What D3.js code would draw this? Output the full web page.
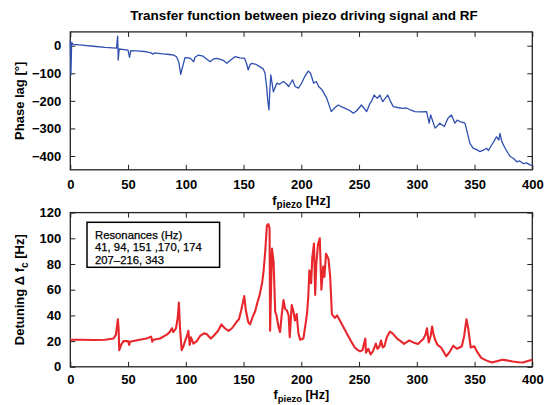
<!DOCTYPE html>
<html>
<head>
<meta charset="utf-8">
<script src="https://cdn.jsdelivr.net/npm/d3@7"></script>
<style>
  html, body { margin: 0; padding: 0; background: #fff; }
  svg { display: block; font-family: "Liberation Sans", Arial, Helvetica, sans-serif; }
  .axis text { font-size: 13px; font-weight: bold; fill: #000; }
  .axis path { display: none; }
  .axis line { stroke: #222; stroke-width: 1; }
</style>
</head>
<body>
<svg id="chart" width="553" height="405"></svg>
<script>
// Phase lag of the RF signal versus piezo drive frequency
const phaseFreq = [0, 0.5, 1.2, 2.5, 10, 20, 30, 40, 41, 41.5, 42.3, 45, 50, 51.3, 52.3, 60, 66, 70, 71.6, 73, 80, 86, 89.5, 92, 94, 95.6, 97, 99.3, 102, 104, 106.8, 108, 111, 115, 121, 124, 127, 132, 135.6, 138, 142.6, 147, 151, 153, 154, 155.5, 157, 161, 164, 167, 168.6, 170, 171, 172, 172.8, 173.6, 174.5, 175.8, 178.8, 181, 184.6, 187, 189, 192.5, 194.6, 197.5, 200, 203, 206, 208, 210.7, 213, 215, 218, 222, 226, 229, 232, 235, 238, 242, 245, 248, 252, 254, 256.6, 259.5, 261, 263, 265.8, 268, 270.5, 274.8, 277, 279.6, 284, 288.3, 291, 295, 298.4, 303, 308.5, 309.5, 310.7, 312, 313.5, 315.8, 318, 320, 323.8, 327, 330, 333, 335, 337.4, 341.7, 344, 346, 348.9, 351, 354.7, 358, 360.5, 362, 364.8, 367, 369, 371, 372, 373.6, 376.5, 379, 381, 384, 386.6, 389, 392.6, 395, 398, 400];
const phaseDeg = [20, -106, 12, 5, 2, -2, -6, -9, 35, -52, -12, -13, -16, -42, -18, -20, -22, -26, -31, -26, -30, -32, -34, -40, -60, -104, -80, -43, -44, -46, -58, -42, -34, -38, -58, -48, -46, -52, -64, -55, -40, -44, -46, -70, -88, -70, -64, -68, -76, -84, -100, -150, -200, -233, -160, -106, -130, -167, -136, -140, -130, -138, -148, -124, -148, -154, -138, -112, -92, -100, -136, -130, -148, -160, -190, -239, -225, -215, -222, -227, -235, -245, -236, -215, -225, -239, -209, -200, -179, -191, -179, -203, -179, -200, -221, -225, -227, -226, -234, -239, -240, -239, -260, -281, -251, -270, -299, -290, -281, -293, -263, -251, -281, -270, -275, -281, -320, -354, -372, -375, -384, -378, -372, -380, -360, -345, -330, -342, -318, -348, -372, -390, -402, -410, -421, -418, -428, -425, -432, -434];

// Detuning of the cavity frequency versus piezo drive frequency
const detFreq = [0, 10, 20, 30, 37.5, 39.5, 41.2, 41.8, 42.4, 44, 46, 50, 51, 51.6, 60, 66, 70, 71, 72, 77.7, 83.5, 86, 88, 89.2, 91.5, 93, 94, 95, 96.4, 98, 99.3, 101, 102.2, 103.4, 104.5, 106.5, 109.5, 112.4, 115.8, 118, 121.6, 124, 128, 130.8, 133.8, 137, 140, 144, 146, 148, 150.6, 152, 154, 155.6, 158, 160, 162, 164, 166, 167.3, 168.8, 170.2, 171.5, 172.5, 173, 173.8, 174.6, 176, 177.4, 178.5, 180.3, 181.6, 183, 184.6, 186, 187.5, 189, 190, 191.7, 193, 194.5, 196, 197.5, 199, 201.8, 203.8, 205, 206, 207, 208.5, 209.5, 211, 212, 213, 214.4, 216, 217.4, 219, 220, 221.4, 223.5, 225, 226.5, 229, 231, 234, 237, 240, 243, 246.3, 249, 250.9, 253, 255.4, 256, 258, 260, 262, 264.6, 266, 267.7, 269, 270.5, 272, 274, 276.8, 279, 282.9, 286, 289, 293.5, 297, 301, 305.8, 307.5, 308.8, 310.3, 312, 313.3, 314.5, 316.3, 318, 321, 323, 325.5, 328, 331.6, 334.7, 337, 339, 341, 343, 344.5, 346.7, 349.8, 352, 355.8, 360, 365, 370, 374, 378, 383, 388, 392, 396, 400];
const detHz = [21, 21, 20.8, 21, 22, 25, 37, 30, 13, 17, 20, 20, 17, 19.5, 21, 22, 23.5, 19.5, 21, 22, 25, 27, 30, 27, 30, 38, 50, 30, 13, 16, 20, 24, 28, 17, 23, 18, 20, 24, 26, 25.5, 22, 24, 28, 33, 30, 28, 30, 35, 37, 44, 55, 44, 35, 33, 39, 43, 50, 56, 65, 74, 90, 110, 111, 108, 28, 60, 92, 82, 43, 40, 31, 27, 40, 52, 45, 44, 40, 23, 48, 44, 36, 41, 26, 21, 22, 34, 42, 54, 75, 65, 85, 96, 56, 80, 95, 100, 60, 78, 70, 88, 84, 70, 41, 38, 40, 35, 30, 25, 20, 15, 13, 12, 13, 22, 11, 14, 9.6, 12, 18, 14, 16, 20.5, 15, 16, 23, 27.4, 26, 22, 20, 17.8, 20.5, 19, 17.8, 21.9, 25, 30, 19, 24, 31.4, 25, 20, 17, 15, 12, 8.2, 11, 16.4, 14, 15, 16, 24, 37, 30, 15, 16, 12, 7, 5, 3.3, 4.5, 5.5, 5, 4.1, 3.5, 3.3, 4.5, 5.5];

const freqTicks = [0, 50, 100, 150, 200, 250, 300, 350, 400];
const phaseTicks = [0, -100, -200, -300, -400];
const detTicks = [0, 20, 40, 60, 80, 100, 120];
const resonanceLines = ["Resonances (Hz)", "41, 94, 151 ,170, 174", "207\u2013216, 343"];

const svg = d3.select("#chart");
const left = 70.3, right = 532.3;

const x = d3.scaleLinear().domain([0, 400]).range([left, right]);

function panel(opt) {
  const { top, bottom, yDomain, yTicks, xs, ys, color, width, yLabelParts, yLabelX, xPad, xLabelGap, xLabelSize } = opt;
  const y = d3.scaleLinear().domain(yDomain).range([bottom, top]);
  const g = svg.append("g");

  // inward ticks on all four sides
  g.append("g").attr("class", "axis").attr("transform", `translate(0,${bottom})`)
    .call(d3.axisBottom(x).tickValues(freqTicks).tickSize(-5).tickPadding(xPad).tickFormat(d3.format("d")));
  g.append("g").attr("class", "axis").attr("transform", `translate(0,${top})`)
    .call(d3.axisTop(x).tickValues(freqTicks).tickSize(-5).tickFormat(""));
  g.append("g").attr("class", "axis").attr("transform", `translate(${left},0)`)
    .call(d3.axisLeft(y).tickValues(yTicks).tickSize(-5).tickPadding(9).tickFormat(d3.format("d")));
  g.append("g").attr("class", "axis").attr("transform", `translate(${right},0)`)
    .call(d3.axisRight(y).tickValues(yTicks).tickSize(-5).tickFormat(""));

  g.append("rect")
    .attr("x", left).attr("y", top)
    .attr("width", right - left).attr("height", bottom - top)
    .attr("fill", "none").attr("stroke", "#222").attr("stroke-width", 1.3);

  const line = d3.line().x((d, i) => x(xs[i])).y((d, i) => y(ys[i]));
  g.append("path")
    .datum(ys)
    .attr("d", line)
    .attr("fill", "none")
    .attr("stroke", color)
    .attr("stroke-width", width)
    .attr("stroke-linejoin", "round");

  // x axis label: f_piezo [Hz]
  const xl = g.append("text")
    .attr("x", (left + right) / 2).attr("y", bottom + xLabelGap)
    .attr("text-anchor", "middle")
    .attr("font-size", xLabelSize).attr("font-weight", "bold");
  xl.append("tspan").text("f");
  xl.append("tspan").attr("font-size", xLabelSize - 3).attr("dy", 3.5).text("piezo");
  xl.append("tspan").attr("dy", -3.5).text(" [Hz]");

  // y axis label
  const yl = g.append("text")
    .attr("transform", `translate(${yLabelX},${(top + bottom) / 2}) rotate(-90)`)
    .attr("text-anchor", "middle")
    .attr("font-size", 13).attr("font-weight", "bold");
  yLabelParts.forEach(p => {
    const t = yl.append("tspan").text(p.text);
    if (p.sub) t.attr("font-size", 10).attr("dy", 4);
    if (p.after) t.attr("dy", -4);
  });
  return y;
}

panel({
  top: 31.9, bottom: 169.8, yDomain: [-450, 50], yTicks: phaseTicks,
  xs: phaseFreq, ys: phaseDeg, color: "#2f4fb0", width: 1.3,
  yLabelParts: [{ text: "Phase lag [\u00b0]" }], yLabelX: 24,
  xPad: 10, xLabelGap: 35, xLabelSize: 13
});

panel({
  top: 212.6, bottom: 366.8, yDomain: [0, 120], yTicks: detTicks,
  xs: detFreq, ys: detHz, color: "#e8272d", width: 2.1,
  yLabelParts: [{ text: "Detuning \u0394 f" }, { text: "c", sub: true }, { text: " [Hz]", after: true }], yLabelX: 24,
  xPad: 8, xLabelGap: 32, xLabelSize: 12.5
});

svg.append("text")
  .attr("x", 304).attr("y", 20)
  .attr("text-anchor", "middle")
  .attr("font-size", 13.5).attr("font-weight", "bold")
  .text("Transfer function between piezo driving signal and RF");

// resonance annotation box
svg.append("rect")
  .attr("x", 87).attr("y", 222.3).attr("width", 132.6).attr("height", 45)
  .attr("fill", "#fff").attr("stroke", "#000").attr("stroke-width", 1.5);
svg.append("g").selectAll("text").data(resonanceLines).join("text")
  .attr("x", 95).attr("y", (d, i) => 238.5 + i * 12.8)
  .attr("font-size", 11.3).attr("font-weight", "normal")
  .attr("stroke", "#000").attr("stroke-width", 0.25)
  .text(d => d);
</script>
</body>
</html>
